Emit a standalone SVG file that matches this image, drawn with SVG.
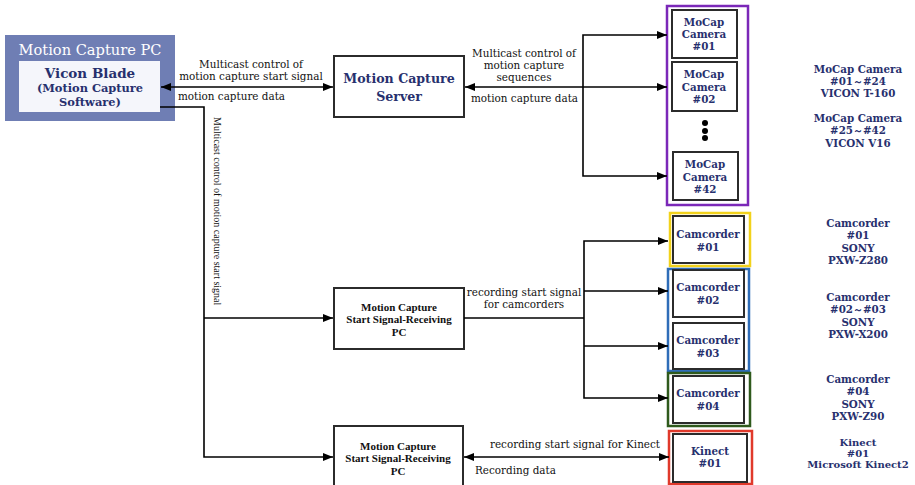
<svg xmlns="http://www.w3.org/2000/svg" width="915" height="485" viewBox="0 0 915 485">
<style>
.n{fill:#fff;stroke:#2b2b2b;stroke-width:2}
.c{fill:none;stroke:#000;stroke-width:1.6}
.t{font-family:"DejaVu Serif","Liberation Serif",serif;font-weight:bold;fill:#27306e;text-anchor:middle}
.tb{font-family:"Liberation Serif","Times New Roman",serif;font-weight:bold;fill:#111;text-anchor:middle;font-size:11px}
.l{font-family:"DejaVu Serif","Liberation Serif",serif;fill:#111;font-size:10.4px}
.v{font-family:"Liberation Serif","Times New Roman",serif;fill:#111;font-size:10px}
.lm{text-anchor:middle}
.g{fill:none;stroke-width:2.5}
.s{font-size:10.3px}
</style>
<defs>
<marker id="a" viewBox="0 0 10 8" refX="10" refY="4" markerWidth="10" markerHeight="8" markerUnits="userSpaceOnUse" orient="auto-start-reverse">
<path d="M0,0 L10,4 L0,8 z" fill="#000"/>
</marker>
</defs>

<g id="mocap-pc">
<rect x="5" y="35" width="170" height="86" fill="#6f7eb4"/>
<text x="90" y="55" font-family="DejaVu Serif, Liberation Serif, serif" font-size="14.6" fill="#fff" text-anchor="middle">Motion Capture PC</text>
<rect x="19" y="61" width="141" height="51" fill="#f5f6fb"/>
<text class="t" x="90" y="78" font-size="13.5">Vicon Blade</text>
<text class="t" x="90" y="92" font-size="11.4">(Motion Capture</text>
<text class="t" x="90" y="106" font-size="11.4">Software)</text>
</g>

<g id="server">
<rect class="n" x="334" y="56" width="130" height="61"/>
<text class="t" x="399" y="83" font-size="12.6">Motion Capture</text>
<text class="t" x="399" y="101" font-size="12.6">Server</text>
</g>

<g id="pc2">
<rect class="n" x="334" y="288" width="130" height="61"/>
<text class="tb" x="399" y="310.5">Motion Capture</text>
<text class="tb" x="399" y="323">Start Signal-Receiving</text>
<text class="tb" x="399" y="335.5">PC</text>
</g>

<g id="pc3">
<rect class="n" x="334" y="426" width="129" height="70"/>
<text class="tb" x="398" y="449.5">Motion Capture</text>
<text class="tb" x="398" y="462">Start Signal-Receiving</text>
<text class="tb" x="398" y="474.5">PC</text>
</g>

<g id="mocap-cameras">
<rect class="g" x="667" y="6" width="81" height="199" stroke="#7b28b8"/>
<rect class="n" x="672" y="10" width="65" height="48"/>
<text class="t s" x="704" y="26">MoCap</text>
<text class="t s" x="704" y="38">Camera</text>
<text class="t s" x="704" y="50">#01</text>
<rect class="n" x="672" y="62" width="65" height="49"/>
<text class="t s" x="704" y="78">MoCap</text>
<text class="t s" x="704" y="91">Camera</text>
<text class="t s" x="704" y="103">#02</text>
<circle cx="705" cy="123" r="3" fill="#000"/>
<circle cx="705" cy="131" r="3" fill="#000"/>
<circle cx="705" cy="138" r="3" fill="#000"/>
<rect class="n" x="673" y="152" width="65" height="48"/>
<text class="t s" x="705" y="168">MoCap</text>
<text class="t s" x="705" y="181">Camera</text>
<text class="t s" x="705" y="193">#42</text>
</g>

<g id="camcorder01">
<rect class="g" x="670" y="213" width="80" height="53" stroke="#f2d21b"/>
<rect class="n" x="673" y="216" width="71" height="47"/>
<text class="t s" x="708" y="238">Camcorder</text>
<text class="t s" x="708" y="251">#01</text>
</g>

<g id="camcorder02-03">
<rect class="g" x="668" y="269" width="81" height="102" stroke="#2f6db8"/>
<rect class="n" x="673" y="270" width="71" height="47"/>
<text class="t s" x="708" y="291">Camcorder</text>
<text class="t s" x="708" y="304">#02</text>
<rect class="n" x="673" y="323" width="71" height="46"/>
<text class="t s" x="708" y="344">Camcorder</text>
<text class="t s" x="708" y="357">#03</text>
</g>

<g id="camcorder04">
<rect class="g" x="668" y="373" width="82" height="53" stroke="#2f5a1c"/>
<rect class="n" x="673" y="376" width="71" height="47"/>
<text class="t s" x="708" y="397">Camcorder</text>
<text class="t s" x="708" y="410">#04</text>
</g>

<g id="kinect">
<rect class="g" x="669" y="431" width="83" height="53" stroke="#e0392b"/>
<rect class="n" x="673" y="434" width="74" height="48"/>
<text class="t s" x="710" y="455">Kinect</text>
<text class="t s" x="710" y="467">#01</text>
</g>

<g id="specs">
<text class="t s" x="858" y="73">MoCap Camera</text>
<text class="t s" x="858" y="85">#01～#24</text>
<text class="t s" x="858" y="97">VICON T-160</text>
<text class="t s" x="858" y="122">MoCap Camera</text>
<text class="t s" x="858" y="134">#25～#42</text>
<text class="t s" x="858" y="147">VICON V16</text>
<text class="t s" x="858" y="227">Camcorder</text>
<text class="t s" x="858" y="239">#01</text>
<text class="t s" x="858" y="252">SONY</text>
<text class="t s" x="858" y="264">PXW-Z280</text>
<text class="t s" x="858" y="301">Camcorder</text>
<text class="t s" x="858" y="313">#02～#03</text>
<text class="t s" x="858" y="326">SONY</text>
<text class="t s" x="858" y="338">PXW-X200</text>
<text class="t s" x="858" y="383">Camcorder</text>
<text class="t s" x="858" y="395">#04</text>
<text class="t s" x="858" y="408">SONY</text>
<text class="t s" x="858" y="420">PXW-Z90</text>
<text class="t" x="858" y="446" font-size="10">Kinect</text>
<text class="t" x="858" y="457" font-size="10">#01</text>
<text class="t" x="858" y="468" font-size="10">Microsoft Kinect2</text>
</g>

<g id="connectors">
<line class="c" x1="161" y1="87" x2="333" y2="87" marker-start="url(#a)" marker-end="url(#a)"/>
<polyline class="c" points="160,107 204,107 204,457 333,457" marker-end="url(#a)"/>
<line class="c" x1="204" y1="318" x2="333" y2="318" marker-end="url(#a)"/>
<line class="c" x1="465" y1="87" x2="667" y2="87" marker-start="url(#a)" marker-end="url(#a)"/>
<polyline class="c" points="667,35 583,35 583,176 667,176" marker-start="url(#a)" marker-end="url(#a)"/>
<line class="c" x1="464" y1="318" x2="584" y2="318"/>
<polyline class="c" points="668,241 584,241 584,398 668,398" marker-start="url(#a)" marker-end="url(#a)"/>
<line class="c" x1="584" y1="291" x2="668" y2="291" marker-end="url(#a)"/>
<line class="c" x1="584" y1="346" x2="668" y2="346" marker-end="url(#a)"/>
<line class="c" x1="464" y1="457" x2="669" y2="457" marker-start="url(#a)" marker-end="url(#a)"/>
<text class="l lm" x="251" y="68">Multicast control of</text>
<text class="l lm" x="251" y="80">motion capture start signal</text>
<text class="l" x="178" y="100">motion capture data</text>
<text class="l lm" x="524" y="57">Multicast control of</text>
<text class="l lm" x="524" y="69">motion capture</text>
<text class="l lm" x="524" y="81">sequences</text>
<text class="l" x="471" y="102">motion capture data</text>
<text class="v" x="214" y="117" transform="rotate(90 214 117)">Multicast control of motion capture start signal</text>
<text class="l lm" x="524" y="296">recording start signal</text>
<text class="l lm" x="524" y="308">for camcorders</text>
<text class="l lm" x="575" y="448">recording start signal for Kinect</text>
<text class="l" x="475" y="474">Recording data</text>
</g>
</svg>
